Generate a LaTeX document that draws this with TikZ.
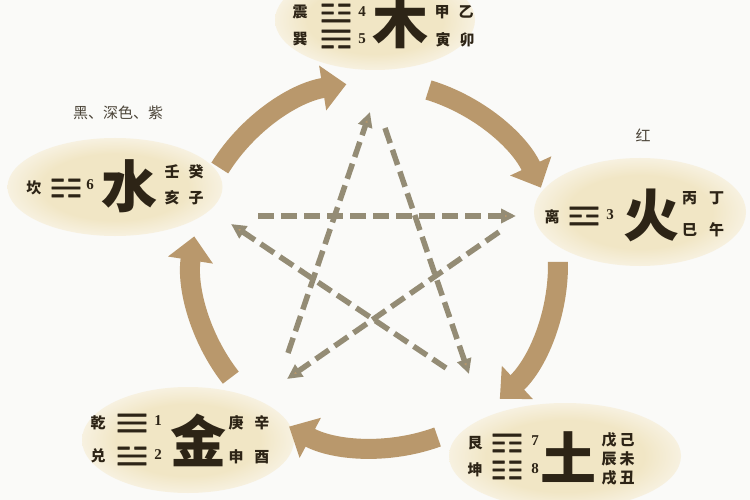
\documentclass[tikz,border=0pt]{standalone}
\usepackage{fontspec}
\usetikzlibrary{arrows.meta,shapes.geometric}
\newfontfamily\cjk{Noto Sans CJK SC}
\newfontfamily\djvb[FakeBold=1.5]{DejaVu Sans}
\newfontfamily\numf{Liberation Serif}
\newcommand{\trig}[1]{\scalebox{1.2}[0.78]{#1}}
\definecolor{cream}{RGB}{241,230,197}
\definecolor{creamout}{RGB}{247,241,224}
\definecolor{arrowc}{RGB}{185,152,108}
\definecolor{dashc}{RGB}{148,140,117}
\definecolor{ink}{RGB}{45,36,22}
\definecolor{bg}{RGB}{250,250,248}
\pgfdeclareradialshading{ellsh}{\pgfpoint{0bp}{0bp}}{color(0bp)=(cream); color(17bp)=(cream); color(25bp)=(creamout); color(50bp)=(creamout)}
\begin{document}
\begin{tikzpicture}[x=1pt,y=-1pt,
 ell/.style={ellipse, shade, shading=ellsh, inner sep=0pt},
 big/.style={text=ink, font=\cjk\bfseries\fontsize{56}{56}\selectfont, inner sep=0pt},
 sm/.style={text=ink, font=\cjk\bfseries\fontsize{15}{15}\selectfont, inner sep=0pt},
 lbl/.style={text=ink!85, font=\cjk\fontsize{15}{15}\selectfont, inner sep=0pt},
 tri/.style={text=ink, font=\djvb\fontsize{32}{32}\selectfont, inner sep=0pt},
 num/.style={text=ink, font=\numf\bfseries\fontsize{15}{15}\selectfont, inner sep=0pt},
 cyc/.style={draw=arrowc, line width=20pt, -{Triangle[length=24pt,width=44pt]}},
 starln/.style={draw=dashc, line width=5.5pt, dash pattern=on 16pt off 7pt, -{Triangle[length=15pt,width=14pt,fill=arrowc]}},
]
\useasboundingbox[fill=bg] (0,0) rectangle (750,500);
% ellipses
\node[ell, minimum width=200pt, minimum height=100pt] (wood) at (375,20) {};
\node[ell, minimum width=215pt, minimum height=98pt] (water) at (115,187) {};
\node[ell, minimum width=212pt, minimum height=108pt] (fire) at (640,212) {};
\node[ell, minimum width=212pt, minimum height=106pt] (metal) at (188,440) {};
\node[ell, minimum width=232pt, minimum height=106pt] (earth) at (565,456) {};
% cycle arrows
\coordinate (c) at (375,265);
\draw[cyc] (c) ++(-148:183) arc[start angle=-148, end angle=-99, radius=183];
\draw[cyc] (c) ++(-73:183) arc[start angle=-73, end angle=-25, radius=183];
\draw[cyc] (c) ++(-1:183) arc[start angle=-1, end angle=47, radius=183];
\draw[cyc] (c) ++(70:183) arc[start angle=70, end angle=118, radius=183];
\draw[cyc] (c) ++(142:183) arc[start angle=142, end angle=189, radius=183];
% star
\coordinate (s1a) at (288,353); \coordinate (s1b) at (370,112);
\coordinate (s2a) at (385,128); \coordinate (s2b) at (469,374);
\coordinate (s3a) at (258,216); \coordinate (s3b) at (516,216);
\coordinate (s4a) at (499,232); \coordinate (s4b) at (287,379);
\coordinate (s5a) at (446,368); \coordinate (s5b) at (231,224);
\draw[starln] (s1a) -- (s1b);
\draw[starln] (s2a) -- (s2b);
\draw[starln] (s3a) -- (s3b);
\draw[starln] (s4a) -- (s4b);
\draw[starln] (s5a) -- (s5b);
% wood
\node[sm] (w1) at (300,12) {震};
\node[tri] (w2) at (336,13) {\trig{☳}};
\node[num] (w3) at (362,12) {4};
\node[sm] (w4) at (300,39) {巽};
\node[tri] (w5) at (336,39) {\trig{☴}};
\node[num] (w6) at (362,39) {5};
\node[big] (w7) at (400,22) {木};
\node[sm] (w8) at (454,12) {甲\hspace{9pt}乙};
\node[sm] (w9) at (455,40) {寅\hspace{9pt}卯};
% water
\node[lbl] (l1) at (118,113) {黑、深色、紫};
\node[sm] (a1) at (34,188) {坎};
\node[tri] (a2) at (66,188) {\trig{☵}};
\node[num] (a3) at (90,185) {6};
\node[big] (a4) at (129,186) {水};
\node[sm] (a5) at (184,172) {壬\hspace{9pt}癸};
\node[sm] (a6) at (184,198) {亥\hspace{9pt}子};
% fire
\node[lbl] (l2) at (643,135) {红};
\node[sm] (f1) at (552,217) {离};
\node[tri] (f2) at (584,216) {\trig{☲}};
\node[num] (f3) at (610,215) {3};
\node[big] (f4) at (651,215) {火};
\node[sm] (f5) at (703,198) {丙\hspace{12pt}丁};
\node[sm] (f6) at (703,230) {巳\hspace{12pt}午};
% metal
\node[sm] (m1) at (98,423) {乾};
\node[tri] (m2) at (132,423) {\trig{☰}};
\node[num] (m3) at (158,421) {1};
\node[sm] (m4) at (98,456) {兑};
\node[tri] (m5) at (132,456) {\trig{☱}};
\node[num] (m6) at (158,455) {2};
\node[big] (m7) at (198,440) {金};
\node[sm] (m8) at (249,423) {庚\hspace{11pt}辛};
\node[sm] (m9) at (249,457) {申\hspace{11pt}酉};
% earth
\node[sm] (e1) at (475,443) {艮};
\node[tri] (e2) at (507,443) {\trig{☶}};
\node[num] (e3) at (535,441) {7};
\node[sm] (e4) at (475,470) {坤};
\node[tri] (e5) at (507,470) {\trig{☷}};
\node[num] (e6) at (535,469) {8};
\node[big] (e7) at (568,457) {土};
\node[sm] (e8) at (618,440) {戊\hspace{3pt}己};
\node[sm] (e9) at (618,459) {辰\hspace{3pt}未};
\node[sm] (e10) at (618,478) {戌\hspace{3pt}丑};
\end{tikzpicture}
\end{document}
